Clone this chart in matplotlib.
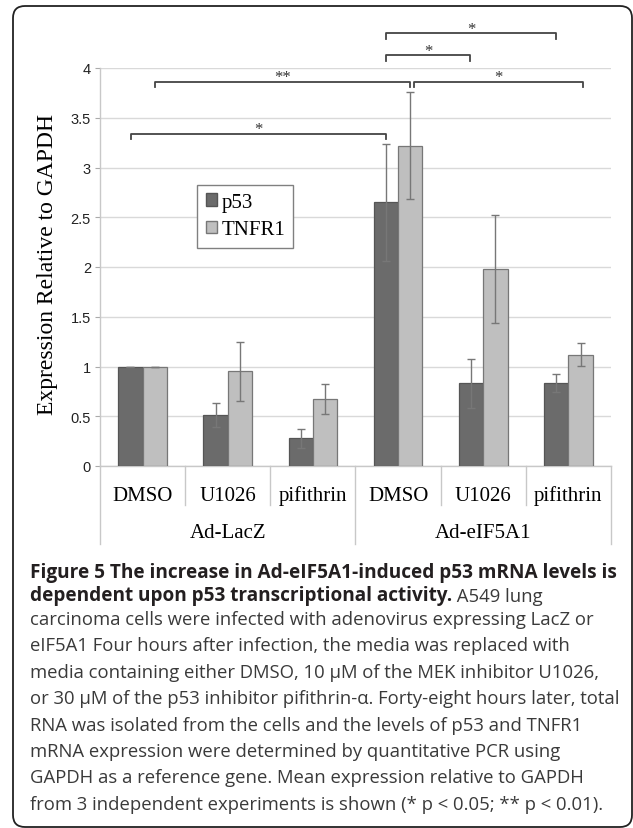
import numpy as np
import matplotlib
matplotlib.use('Agg')
import matplotlib.pyplot as plt
from matplotlib.patches import FancyBboxPatch, Patch

# data
treatments = ['DMSO', 'U1026', 'pifithrin', 'DMSO', 'U1026', 'pifithrin']
groups = ['Ad-LacZ', 'Ad-eIF5A1']
p53 = [1.0, 0.51, 0.28, 2.65, 0.83, 0.83]
p53_err = [0, 0.12, 0.095, 0.585, 0.25, 0.09]
tnfr1 = [1.0, 0.95, 0.67, 3.22, 1.98, 1.12]
tnfr1_err = [0, 0.30, 0.15, 0.54, 0.54, 0.115]

# significance brackets: (x start, x end, height, label)
brackets = [
    (-0.14, 2.86, 3.34, '*'),
    (0.14, 3.14, 3.86, '**'),
    (3.19, 5.17, 3.86, '*'),
    (2.86, 3.85, 4.13, '*'),
    (2.86, 4.86, 4.35, '*'),
]

caption_lines = [
    "carcinoma cells were infected with adenovirus expressing LacZ or",
    "eIF5A1 Four hours after infection, the media was replaced with",
    "media containing either DMSO, 10 \u03bcM of the MEK inhibitor U1026,",
    "or 30 \u03bcM of the p53 inhibitor pifithrin-\u03b1. Forty-eight hours later, total",
    "RNA was isolated from the cells and the levels of p53 and TNFR1",
    "mRNA expression were determined by quantitative PCR using",
    "GAPDH as a reference gene. Mean expression relative to GAPDH",
    "from 3 independent experiments is shown (* p < 0.05; ** p < 0.01).",
]

serif = 'Liberation Serif'
cap_font = ['Open Sans', 'DejaVu Sans']
W, H = 633, 829

fig = plt.figure(figsize=(W / 100, H / 100), dpi=100)
fig.patch.set_facecolor('white')

ax = fig.add_axes([100 / W, 1 - 467 / H, 511 / W, 398 / H])

x = np.arange(len(treatments))
w = 0.285
ax.bar(x - w / 2, p53, w, color='#6b6b6b', edgecolor='#555555', linewidth=0.9, zorder=3)
ax.bar(x + w / 2, tnfr1, w, color='#bfbfbf', edgecolor='#777777', linewidth=0.9, zorder=3)
ax.errorbar(x - w / 2, p53, yerr=p53_err, fmt='none', ecolor='#777777', elinewidth=1, capsize=3, zorder=4)
ax.errorbar(x + w / 2, tnfr1, yerr=tnfr1_err, fmt='none', ecolor='#777777', elinewidth=1, capsize=3, zorder=4)

ax.set_xlim(-0.5, 5.5)
ax.set_ylim(0, 4)
ax.set_yticks(np.arange(0, 4.01, 0.5))
ax.set_yticklabels([f'{v:g}' for v in np.arange(0, 4.01, 0.5)], family='Liberation Sans', fontsize=10.5, color='#222222')
ax.set_xticks([])
ax.tick_params(axis='y', length=3.5, color='#aaaaaa', pad=3)
ax.grid(axis='y', color='#d9d9d9', linewidth=1, zorder=0)
ax.set_axisbelow(True)
for s in ['top', 'right']:
    ax.spines[s].set_visible(False)
for s in ['left', 'bottom']:
    ax.spines[s].set_color('#c8c8c8')
    ax.spines[s].set_linewidth(1)

# category axis: separators and labels
trans = ax.get_xaxis_transform()
for b in np.arange(-0.5, 6, 1.0):
    low = -0.196 if b in (-0.5, 2.5, 5.5) else -0.098
    ax.plot([b, b], [0, low], color='#c8c8c8', lw=1, transform=trans, clip_on=False)
for i, t in enumerate(treatments):
    ax.text(i, -0.073, t, transform=trans, ha='center', va='center', family=serif, fontsize=15)
for j, g in enumerate(groups):
    ax.text(3 * j + 1, -0.166, g, transform=trans, ha='center', va='center', family=serif, fontsize=15)

# brackets with stars
d = 0.055
for x1, x2, y, lab in brackets:
    ax.plot([x1, x1, x2, x2], [y - d, y, y, y - d], color='#444444', lw=1.3, clip_on=False, zorder=5)
    ax.text((x1 + x2) / 2, y + 0.005, lab, ha='center', va='baseline', family=serif, fontsize=12, color='#333333')

handles = [Patch(facecolor='#6b6b6b', edgecolor='#555555', label='p53'),
           Patch(facecolor='#bfbfbf', edgecolor='#777777', label='TNFR1')]
leg = ax.legend(handles=handles, loc='upper left', bbox_to_anchor=(0.1904, 0.7068), borderaxespad=0,
                prop={'family': serif, 'size': 15}, handlelength=0.55, handleheight=0.55,
                handletextpad=0.2, labelspacing=0.4, borderpad=0.4, fancybox=False, framealpha=1)
leg.get_frame().set_edgecolor('#808080')
leg.get_frame().set_linewidth(1)

fig.text(48 / W, 1 - 264.7 / H, 'Expression Relative to GAPDH', rotation=90, ha='center', va='center',
         family=serif, fontsize=17)

# caption
cx = 30 / W
fs_bold = 13.7
fs = 13.3
fig.text(cx, 1 - 578 / H, 'Figure 5 The increase in Ad-eIF5A1-induced p53 mRNA levels is',
         family=cap_font, fontweight='bold', fontsize=fs_bold, color='#231f20', va='baseline')
bold2 = fig.text(cx, 1 - 601 / H, 'dependent upon p53 transcriptional activity.',
                 family=cap_font, fontweight='bold', fontsize=fs_bold, color='#231f20', va='baseline')
ax.annotate(' A549 lung', xy=(1, 0), xycoords=bold2, va='bottom', ha='left',
            family=cap_font, fontsize=fs, color='#3a3a3a', annotation_clip=False)
for k, line in enumerate(caption_lines):
    fig.text(cx, 1 - (625 + 26.4 * k) / H, line, family=cap_font, fontsize=fs, color='#3a3a3a', va='baseline')

# rounded frame around the whole figure
frame = FancyBboxPatch((0.13, 0.01), 6.19, 8.21, boxstyle='round,pad=0,rounding_size=0.12',
                       transform=fig.dpi_scale_trans, fill=False, edgecolor='#222222', linewidth=1.3)
fig.add_artist(frame)

fig.savefig('out.png', dpi=100, facecolor='white')
